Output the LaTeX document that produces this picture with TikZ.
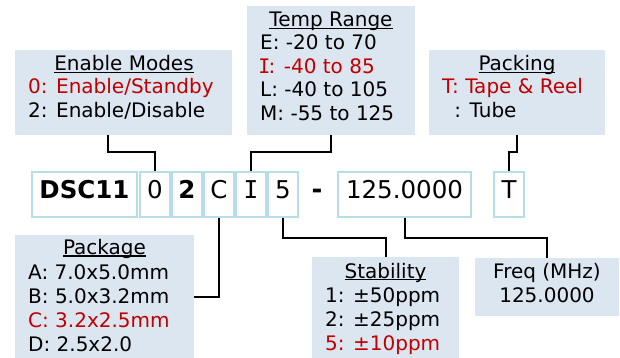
\documentclass[tikz,border=0pt]{standalone}
\usepackage{fontspec}
\setmainfont{DejaVu Sans}
\newfontfamily\monofam{DejaVu Sans Mono}
\newcommand\serifI{\makebox[0.421em]{\monofam I}}
\definecolor{boxfill}{RGB}{220,230,241}
\definecolor{codeline}{RGB}{183,222,232}
\definecolor{selred}{RGB}{192,0,0}
\newcommand\myul[1]{\setbox0\hbox{#1}\rlap{\rule[-2.2pt]{\wd0}{1.3pt}}\box0}
\tikzset{
  infobox/.style={fill=boxfill,draw=none,anchor=north west,inner sep=0pt},
  txt/.style={inner sep=0pt,font=\fontsize{20}{24}\selectfont},
  codebox/.style={draw=codeline,line width=1.8pt,minimum height=45pt,inner sep=0pt,
    font=\fontsize{24.5}{28}\selectfont,text height=0.73em,text depth=0pt},
  conn/.style={draw=black,line width=2pt}
}
\begin{document}
\begin{tikzpicture}[x=1pt,y=-1pt]
\useasboundingbox (0,0) rectangle (620,358);
% info boxes
\node[infobox,minimum width=217pt,minimum height=85pt] (em) at (15,50) {};
\node[infobox,minimum width=168pt,minimum height=129pt] (tr) at (247,6) {};
\node[infobox,minimum width=176pt,minimum height=85pt] (pk) at (429,50) {};
\node[infobox,minimum width=179pt,minimum height=123pt] (pg) at (15,235) {};
\node[infobox,minimum width=147pt,minimum height=101pt] (st) at (312,257) {};
\node[infobox,minimum width=144pt,minimum height=58pt] (fq) at (475,258) {};
% code boxes
\node[codebox,minimum width=105pt] (dsc) at (84.5,194.5) {\bfseries DSC11};
\node[codebox,minimum width=30pt] (zero) at (155,194.5) {0};
\node[codebox,minimum width=30pt] (two) at (187,194.5) {\bfseries 2};
\node[codebox,minimum width=30pt] (cc) at (219,194.5) {C};
\node[codebox,minimum width=30pt] (ii) at (251,194.5) {\monofam I};
\node[codebox,minimum width=30pt] (five) at (283,194.5) {5};
\node[inner sep=0pt,font=\fontsize{26}{28}\selectfont\bfseries] (dash) at (317,194) {-};
\node[codebox,minimum width=133pt] (freq) at (404.5,194.5) {125.0000};
\node[codebox,minimum width=30pt] (tt) at (509,194.5) {T};
% Enable Modes text
\node[txt,anchor=base] (emt) at (124,71) {\myul{Enable Modes}};
\node[txt,anchor=base west,text=selred] (em1) at (28,94) {0: Enable/Standby};
\node[txt,anchor=base west] (em2) at (28,118) {2: Enable/Disable};
% Temp Range text
\node[txt,anchor=base] (trt) at (331,27) {\myul{Temp Range}};
\node[txt,anchor=base west] (tr1) at (260,50) {E: -20 to 70};
\node[txt,anchor=base west,text=selred] (tr2) at (260,73.5) {\serifI: -40 to 85};
\node[txt,anchor=base west] (tr3) at (260,97) {L: -40 to 105};
\node[txt,anchor=base west] (tr4) at (260,121) {M: -55 to 125};
% Packing text
\node[txt,anchor=base] (pkt) at (517,71) {\myul{Packing}};
\node[txt,anchor=base west,text=selred] (pk1) at (442,94) {T: Tape \& Reel};
\node[txt,anchor=base west] (pk2) at (442,118) {\phantom{T}: Tube};
% Package text
\node[txt,anchor=base] (pgt) at (104.5,254.5) {\myul{Package}};
\node[txt,anchor=base west] (pg1) at (28,279) {A: 7.0x5.0mm};
\node[txt,anchor=base west] (pg2) at (28,303) {B: 5.0x3.2mm};
\node[txt,anchor=base west,text=selred] (pg3) at (28,327) {C: 3.2x2.5mm};
\node[txt,anchor=base west] (pg4) at (28,351.5) {D: 2.5x2.0};
% Stability text
\node[txt,anchor=base] (stt) at (385.5,278) {\myul{Stability}};
\node[txt,anchor=base west] (st1) at (325,302) {1: ±50ppm};
\node[txt,anchor=base west] (st2) at (325,326) {2: ±25ppm};
\node[txt,anchor=base west,text=selred] (st3) at (325,350) {5: ±10ppm};
% Freq text
\node[txt,anchor=base] (fqt) at (547,278) {Freq (MHz)};
\node[txt,anchor=base] (fq1) at (547,302) {125.0000};
% connectors
\draw[conn] ([xshift=93pt]em.south west) -- ++(0,17) -| (zero.north);
\draw[conn] (tr.south) -- ++(0,17) -| (ii.north);
\draw[conn] (pk.south) -- ++(0,17) -| (tt.north);
\draw[conn] (cc.south) |- (pg.east);
\draw[conn] (five.south) -- ++(0,20) -| (st.north);
\draw[conn] (freq.south) -- ++(0,20) -| (fq.north);
\end{tikzpicture}
\end{document}
